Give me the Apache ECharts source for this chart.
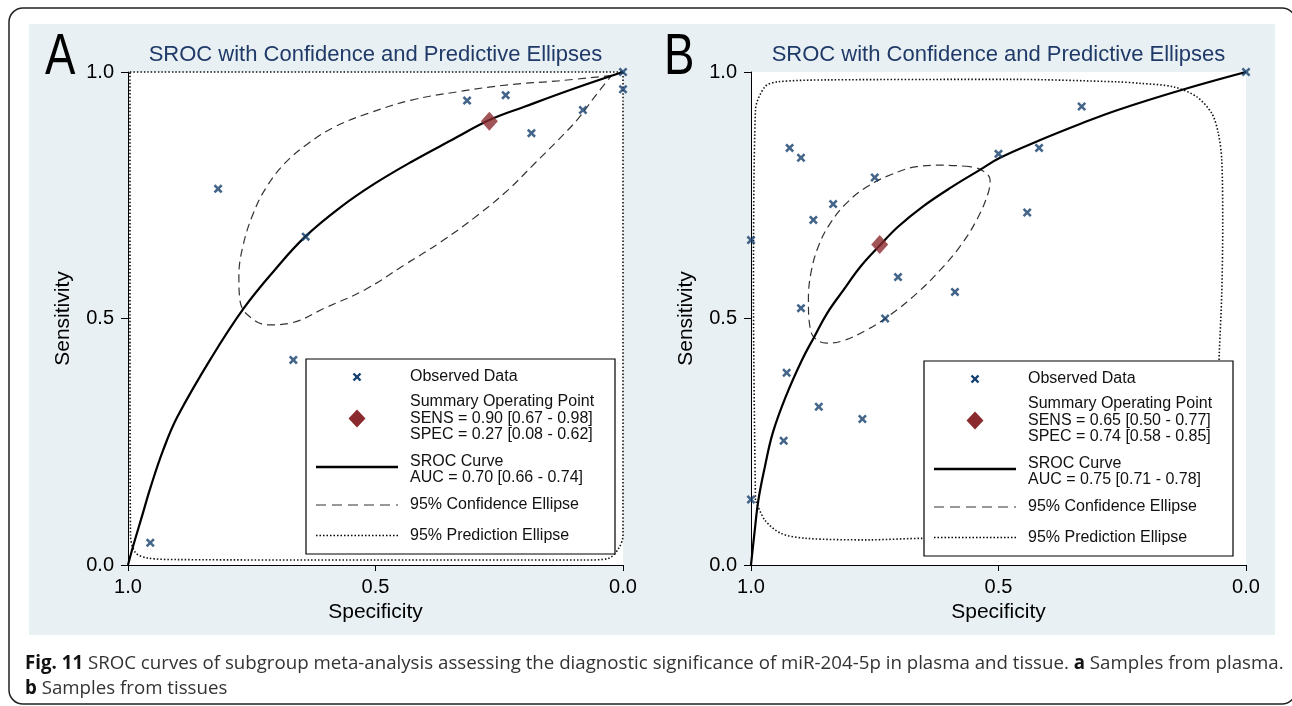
<!DOCTYPE html>
<html>
<head>
<meta charset="utf-8">
<script src="https://cdn.jsdelivr.net/npm/echarts@6/dist/echarts.min.js"></script>
<style>html,body{margin:0;padding:0;background:#fff}#main{width:1292px;height:706px}</style>
</head>
<body>
<div id="main"></div>
<script>
// values are [specificity, sensitivity]
var obsA = [[0.0,1.0],[0.0,0.965],[0.081,0.923],[0.185,0.876],[0.237,0.953],[0.315,0.942],
    [0.818,0.763],[0.641,0.666],[0.666,0.416],[0.955,0.045]];
var sumA = [[0.27,0.90]];
var srocA = [[1.0,0.0],[0.990,0.037],[0.972,0.098],[0.954,0.159],[0.929,0.233],[0.900,0.301],
    [0.830,0.423],[0.766,0.521],[0.704,0.598],[0.642,0.666],[0.569,0.727],[0.501,0.774],
    [0.427,0.818],[0.346,0.862],[0.269,0.903],[0.198,0.930],[0.097,0.967],[0.0,1.0]];
var confA = [[0.023,0.993],[0.131,0.982],[0.232,0.974],[0.333,0.960],[0.427,0.943],[0.515,0.916],
    [0.582,0.889],[0.636,0.855],[0.683,0.815],[0.720,0.767],[0.747,0.713],[0.768,0.646],
    [0.776,0.585],[0.774,0.538],[0.758,0.507],[0.717,0.487],[0.670,0.491],[0.603,0.521],
    [0.522,0.558],[0.441,0.609],[0.367,0.656],[0.293,0.710],[0.232,0.761],[0.178,0.815],
    [0.131,0.862],[0.090,0.906],[0.057,0.950],[0.023,0.993]];
var predA = [[0.996,1.0],[0.5,1.0],[0.0,1.0],[0.0,0.5],[0.0,0.06],[0.008,0.035],[0.03,0.013],
    [0.08,0.01],[0.5,0.01],[0.9,0.011],[0.96,0.014],[0.985,0.025],[0.995,0.06],[0.996,0.5],[0.996,1.0]];

var obsB = [[0.0,1.0],[0.332,0.930],[0.418,0.846],[0.500,0.834],[0.922,0.846],[0.899,0.826],
    [0.750,0.786],[0.834,0.732],[0.874,0.700],[0.442,0.715],[1.0,0.659],[0.703,0.584],
    [0.588,0.554],[0.899,0.521],[0.729,0.500],[0.928,0.390],[0.863,0.321],[0.775,0.296],
    [0.934,0.252],[1.0,0.133]];
var sumB = [[0.74,0.65]];
var srocB = [[1.0,0.0],[0.993,0.065],[0.985,0.132],[0.972,0.199],[0.956,0.268],[0.930,0.341],
    [0.897,0.416],[0.872,0.463],[0.846,0.511],[0.813,0.558],[0.779,0.605],[0.739,0.649],
    [0.703,0.686],[0.653,0.727],[0.594,0.767],[0.540,0.800],[0.497,0.826],[0.418,0.861],
    [0.334,0.895],[0.259,0.923],[0.132,0.963],[0.0,1.0]];
var confB = [[0.558,0.808],[0.612,0.811],[0.665,0.808],[0.719,0.791],[0.766,0.767],[0.807,0.734],
    [0.840,0.693],[0.864,0.646],[0.879,0.592],[0.884,0.538],[0.881,0.483],[0.871,0.460],
    [0.847,0.450],[0.814,0.455],[0.766,0.477],[0.719,0.507],[0.665,0.551],[0.618,0.598],
    [0.578,0.646],[0.544,0.700],[0.521,0.754],[0.517,0.781],[0.534,0.801],[0.558,0.808]];
var predB = [[0.991,0.132],[0.995,0.538],[0.991,0.923],[0.972,0.970],[0.947,0.980],[0.846,0.984],
    [0.469,0.985],[0.259,0.980],[0.214,0.977],[0.147,0.970],[0.100,0.950],[0.069,0.916],
    [0.056,0.876],[0.049,0.822],[0.047,0.686],[0.049,0.551],[0.054,0.429],[0.061,0.233],
    [0.083,0.091],[0.133,0.057],[0.295,0.051],[0.653,0.054],[0.762,0.051],[0.888,0.054],
    [0.939,0.064],[0.972,0.091],[0.991,0.132]];

var titleText = 'SROC with Confidence and Predictive Ellipses';
var legendA = ['SENS = 0.90 [0.67 - 0.98]', 'SPEC = 0.27 [0.08 - 0.62]', 'AUC = 0.70 [0.66 - 0.74]'];
var legendB = ['SENS = 0.65 [0.50 - 0.77]', 'SPEC = 0.74 [0.58 - 0.85]', 'AUC = 0.75 [0.71 - 0.78]'];

var FONT = "'Liberation Sans', Arial, sans-serif";
var CAPFONT = "'Open Sans', sans-serif";
var obsColor = '#153f6d';
var sumColor = '#8b2a2e';
var crossPath = 'path://M0,2L2,0L5,3L8,0L10,2L7,5L10,8L8,10L5,7L2,10L0,8L3,5Z';

var myChart = echarts.init(document.getElementById('main'));

function makeX(i) {
    return {
        gridIndex: i, type: 'value', min: 0, max: 1, interval: 0.5, inverse: true,
        name: 'Specificity', nameLocation: 'middle', nameGap: 35,
        nameTextStyle: {fontFamily: FONT, fontSize: 21, color: '#000'},
        axisLine: {onZero: false, lineStyle: {color: '#000', width: 1}},
        axisTick: {length: 6, lineStyle: {color: '#000'}},
        axisLabel: {margin: 12, fontFamily: FONT, fontSize: 20, color: '#000',
            formatter: function (v) { return v.toFixed(1); }},
        splitLine: {show: false}
    };
}
function makeY(i) {
    return {
        gridIndex: i, type: 'value', min: 0, max: 1, interval: 0.5, position: 'left',
        name: 'Sensitivity', nameLocation: 'middle', nameGap: 54, nameRotate: 90,
        nameTextStyle: {fontFamily: FONT, fontSize: 21, color: '#000'},
        axisLine: {onZero: false, lineStyle: {color: '#000', width: 1}},
        axisTick: {length: 7, lineStyle: {color: '#000'}},
        axisLabel: {margin: 14, fontFamily: FONT, fontSize: 20, color: '#000',
            formatter: function (v) { return v.toFixed(1); }},
        splitLine: {show: false}
    };
}
function makeSeries(i, obs, sum, sroc, conf, pred) {
    return [
        {type: 'line', xAxisIndex: i, yAxisIndex: i, data: pred, symbol: 'none', smooth: 0.3, clip: false,
            lineStyle: {color: '#111', width: 1.6, type: [1.5, 2]}, z: 2},
        {type: 'line', xAxisIndex: i, yAxisIndex: i, data: conf, symbol: 'none', smooth: 0.4,
            lineStyle: {color: '#333', width: 1.2, type: [8, 5]}, z: 3},
        {type: 'line', xAxisIndex: i, yAxisIndex: i, data: sroc, symbol: 'none', smooth: 0.4,
            lineStyle: {color: '#000', width: 2.2}, z: 4},
        {type: 'scatter', xAxisIndex: i, yAxisIndex: i, data: obs, symbol: crossPath, symbolSize: 9,
            clip: false, itemStyle: {color: obsColor}, z: 5},
        {type: 'scatter', xAxisIndex: i, yAxisIndex: i, data: sum, symbol: 'diamond', symbolSize: [17, 19],
            clip: false, itemStyle: {color: sumColor}, z: 6}
    ];
}
function txt(x, y, s, extra) {
    var st = {text: s, fontFamily: FONT, fontSize: 16, fill: '#111',
        align: 'left', textAlign: 'left', verticalAlign: 'middle', textVerticalAlign: 'middle'};
    for (var k in extra) st[k] = extra[k];
    return {type: 'text', x: x, y: y, z: 101, style: st};
}
function legendBox(x0, y0, lines) {
    var kids = [
        {type: 'rect', shape: {x: 0, y: 0, width: 309, height: 195}, style: {fill: '#fff', stroke: '#000', lineWidth: 1.2}},
        {type: 'line', shape: {x1: 47.5, y1: 14.5, x2: 54.5, y2: 21.5}, style: {stroke: obsColor, lineWidth: 2.4}},
        {type: 'line', shape: {x1: 54.5, y1: 14.5, x2: 47.5, y2: 21.5}, style: {stroke: obsColor, lineWidth: 2.4}},
        {type: 'polygon', shape: {points: [[51, 50.5], [59.5, 59.5], [51, 68.5], [42.5, 59.5]]}, style: {fill: sumColor}},
        {type: 'line', shape: {x1: 10, y1: 108, x2: 92, y2: 108}, style: {stroke: '#000', lineWidth: 2.5}},
        {type: 'line', shape: {x1: 10, y1: 146, x2: 92, y2: 146}, style: {stroke: '#333', lineWidth: 1.2, lineDash: [10, 6]}},
        {type: 'line', shape: {x1: 10, y1: 176.5, x2: 92, y2: 176.5}, style: {stroke: '#000', lineWidth: 1.6, lineDash: [1.5, 2]}},
        txt(104, 18, 'Observed Data'),
        txt(104, 59.5, 'Summary Operating Point\n' + lines[0] + '\n' + lines[1], {lineHeight: 16.5}),
        txt(104, 110.5, 'SROC Curve\n' + lines[2], {lineHeight: 16}),
        txt(104, 146, '95% Confidence Ellipse'),
        txt(104, 176.5, '95% Prediction Ellipse')
    ];
    kids.forEach(function (k) { if (k.z == null) k.z = 100; });
    return {type: 'group', x: x0, y: y0, z: 100, children: kids};
}
function bigLetter(x, s) {
    return {type: 'text', x: x, y: 58, scaleX: 0.8, z: 50,
        style: {text: s, fontFamily: FONT, fontSize: 57, fill: '#000',
            align: 'left', textAlign: 'left', verticalAlign: 'middle', textVerticalAlign: 'middle'}};
}
function caption(y, s) {
    return {type: 'text', x: 25, y: y, z: 50, style: {
        text: s, fontFamily: CAPFONT, fontSize: 18.7, fill: '#333',
        align: 'left', textAlign: 'left', verticalAlign: 'middle', textVerticalAlign: 'middle',
        rich: {b: {fontFamily: CAPFONT, fontSize: 18.7, fontWeight: 'bold', fill: '#111'}}}};
}

var option = {
    animation: false,
    title: [
        {text: titleText, left: 375.5, top: 44, textAlign: 'center', padding: 0,
            textStyle: {fontFamily: FONT, fontSize: 22, fontWeight: 'normal', color: '#1f3a68'}},
        {text: titleText, left: 998.5, top: 44, textAlign: 'center', padding: 0,
            textStyle: {fontFamily: FONT, fontSize: 22, fontWeight: 'normal', color: '#1f3a68'}}
    ],
    grid: [
        {left: 128, top: 72, width: 495, height: 493, show: true, backgroundColor: '#fff', borderWidth: 0},
        {left: 751, top: 72, width: 495, height: 493, show: true, backgroundColor: '#fff', borderWidth: 0}
    ],
    xAxis: [makeX(0), makeX(1)],
    yAxis: [makeY(0), makeY(1)],
    series: makeSeries(0, obsA, sumA, srocA, confA, predA).concat(makeSeries(1, obsB, sumB, srocB, confB, predB)),
    graphic: [
        {type: 'rect', z: -10, shape: {x: 29, y: 24, width: 1246, height: 611}, style: {fill: '#e9f0f3'}},
        {type: 'rect', z: 90, shape: {x: 9, y: 8, width: 1287, height: 696, r: 14},
            style: {fill: 'none', stroke: '#222', lineWidth: 1.5}},
        bigLetter(45, 'A'),
        bigLetter(664, 'B'),
        legendBox(306, 359, legendA),
        legendBox(924, 361, legendB),
        caption(664, '{b|Fig. 11} SROC curves of subgroup meta-analysis assessing the diagnostic significance of miR-204-5p in plasma and tissue. {b|a} Samples from plasma.'),
        caption(689, '{b|b} Samples from tissues')
    ]
};
myChart.setOption(option);
</script>
</body>
</html>
